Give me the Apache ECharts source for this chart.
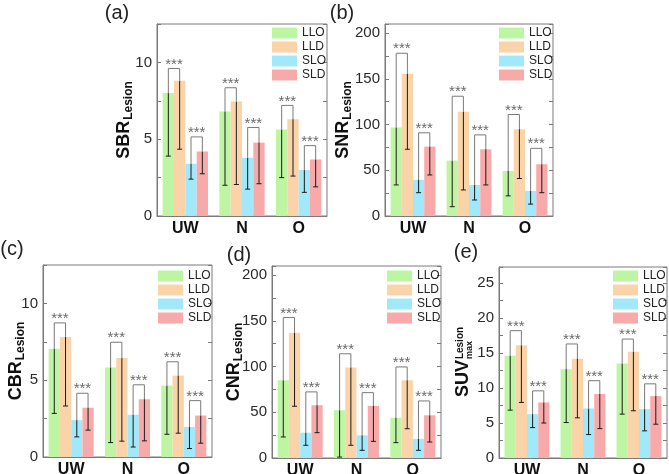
<!DOCTYPE html>
<html>
<head>
<meta charset="utf-8">
<script src="https://cdn.jsdelivr.net/npm/echarts@6/dist/echarts.min.js"></script>
<style>
html, body { margin: 0; padding: 0; background: #fff; }
#main { width: 669px; height: 474px; }
</style>
</head>
<body>
<div id="main"></div>
<script>
var categories = ['UW', 'N', 'O'];
var groupNames = ['LLO', 'LLD', 'SLO', 'SLD'];
var groupColors = ['#bdf5a3', '#fbd3a8', '#a2e8fb', '#f8aaab'];

// rows: LLO, LLD, SLO, SLD  /  columns: UW, N, O
var sbrMean = [[8.0, 6.8, 5.63], [8.8, 7.45, 6.3], [3.4, 3.79, 2.99], [4.2, 4.78, 3.68]];
var sbrLow = [[3.9, 2.0, 2.5], [4.35, 2.05, 2.6], [2.4, 1.75, 1.54], [2.75, 2.1, 1.9]];
// bracket heights: [LLO-LLD], [SLO-SLD]
var sbrBracket = [[9.6, 8.35, 7.2], [5.15, 5.76, 4.58]];

var snrMean = [[96.7, 60.6, 49.3], [155.5, 114, 95], [39.4, 34, 27.4], [75.9, 73, 56.6]];
var snrLow = [[34, 10.2, 22], [73, 28.5, 41], [25.5, 17.5, 13], [44.9, 34, 25.5]];
var snrBracket = [[178, 131, 111], [91, 88.7, 74]];

var cbrMean = [[7.05, 5.83, 4.65], [7.82, 6.44, 5.3], [2.4, 2.75, 1.95], [3.21, 3.76, 2.7]];
var cbrLow = [[2.84, 0.94, 1.48], [3.32, 1.03, 1.55], [1.31, 0.65, 0.55], [1.75, 1.05, 0.9]];
var cbrBracket = [[8.73, 7.47, 6.2], [4.15, 4.7, 3.67]];

var cnrMean = [[85, 52.2, 44], [137, 99, 85], [27.7, 24.8, 21], [57.7, 57, 46.7]];
var cnrLow = [[23, 1, 16.8], [56.6, 13.9, 32], [13.9, 8.4, 8.4], [27.7, 18.2, 17.5]];
var cnrBracket = [[153.6, 114, 99.6], [72.3, 71.5, 62.4]];

var suvMean = [[14.6, 12.7, 13.5], [16.1, 14.2, 15.2], [6.27, 7.08, 6.98], [7.94, 9.14, 8.85]];
var suvLow = [[6.84, 5.07, 6.27], [7.94, 5.74, 6.75], [4.35, 3.35, 3.88], [5.0, 4.2, 4.83]];
var suvBracket = [[18.2, 16.3, 17], [9.6, 11.05, 10.6]];

var FONT = 'Arial, "Liberation Sans", sans-serif';

var panels = [
    { tag: '(a)', tagPos: [117, 13], mean: sbrMean, low: sbrLow, bracket: sbrBracket,
      max: 12.5, step: 2.5, labelStep: 5, grid: { left: 157, top: 24, width: 170, height: 192 },
      title: 'SBR', sub: 'Lesion', titlePos: [124.5, 120], legendPos: [272, 27] },
    { tag: '(b)', tagPos: [342, 13], mean: snrMean, low: snrLow, bracket: snrBracket,
      max: 210, step: 25, labelStep: 50, grid: { left: 385, top: 24, width: 168, height: 192 },
      title: 'SNR', sub: 'Lesion', titlePos: [343.5, 120], legendPos: [499, 27] },
    { tag: '(c)', tagPos: [12, 249], mean: cbrMean, low: cbrLow, bracket: cbrBracket,
      max: 12.5, step: 2.5, labelStep: 5, grid: { left: 43, top: 265, width: 169, height: 192 },
      title: 'CBR', sub: 'Lesion', titlePos: [16.5, 361], legendPos: [158, 270] },
    { tag: '(d)', tagPos: [239, 255], mean: cnrMean, low: cnrLow, bracket: cnrBracket,
      max: 210, step: 25, labelStep: 50, grid: { left: 272, top: 266, width: 169, height: 192 },
      title: 'CNR', sub: 'Lesion', titlePos: [234.5, 362], legendPos: [387, 270] },
    { tag: '(e)', tagPos: [466, 252], mean: suvMean, low: suvLow, bracket: suvBracket,
      max: 27.3, step: 2.5, labelStep: 5, grid: { left: 499, top: 267, width: 168, height: 191 },
      title: 'SUV', sup: 'Lesion', sub: 'max', titlePos: [463.5, 362], legendPos: [613, 270] }
];

var measureCtx = document.createElement('canvas').getContext('2d');
function textWidth(str, size) {
    measureCtx.font = 'bold ' + size + 'px ' + FONT;
    return measureCtx.measureText(str).width;
}

function boldText(str, size, x, y) {
    return {
        type: 'text', x: x, y: y,
        style: { text: str, fontSize: size, fontWeight: 'bold', fontFamily: FONT,
                 fill: '#111', align: 'left', verticalAlign: 'middle' }
    };
}

// y axis title, rotated to read bottom to top
function axisTitle(pn) {
    var wMain = textWidth(pn.title, 18);
    var children = [];
    var total, start;
    if (pn.sup) {
        var wSup = textWidth(pn.sup, 10);
        var wSub = textWidth(pn.sub, 9);
        total = wMain + 1 + Math.max(wSup, wSub);
        start = -total / 2;
        children.push(boldText(pn.title, 18, start, 0));
        children.push(boldText(pn.sup, 10, start + wMain + 1, -3.5));
        children.push(boldText(pn.sub, 9, start + wMain + 1, 6));
    } else {
        var wS = textWidth(pn.sub, 12);
        total = wMain + 1 + wS;
        start = -total / 2;
        children.push(boldText(pn.title, 18, start, 0));
        children.push(boldText(pn.sub, 12, start + wMain + 1, 4));
    }
    return { type: 'group', x: pn.titlePos[0], y: pn.titlePos[1], rotation: Math.PI / 2, children: children };
}

function renderError(params, api) {
    var cat = api.value(0), g = api.value(1);
    var bw = api.size([1, 0])[0] * 0.2;
    var top = api.coord([cat, api.value(2)]);
    var bot = api.coord([cat, api.value(3)]);
    var x = top[0] + (g - 1.5) * bw;
    return {
        type: 'group',
        children: [
            { type: 'line', shape: { x1: x, y1: top[1], x2: x, y2: bot[1] }, style: { stroke: '#1a1a1a', lineWidth: 1 } },
            { type: 'line', shape: { x1: x - 2.5, y1: bot[1], x2: x + 2.5, y2: bot[1] }, style: { stroke: '#1a1a1a', lineWidth: 1 } }
        ]
    };
}

function renderBracket(params, api) {
    var cat = api.value(0), pair = api.value(1);
    var bw = api.size([1, 0])[0] * 0.2;
    var c = api.coord([cat, api.value(2)]);
    var x1 = c[0] + (2 * pair - 1.5) * bw;
    var x2 = c[0] + (2 * pair - 0.5) * bw;
    var yB = c[1];
    var yL = api.coord([cat, api.value(3)])[1];
    var yR = api.coord([cat, api.value(4)])[1];
    return {
        type: 'group',
        children: [
            { type: 'polyline', shape: { points: [[x1, yL], [x1, yB], [x2, yB], [x2, yR]] },
              style: { stroke: '#7a7a7a', lineWidth: 1, fill: null } },
            { type: 'text', x: (x1 + x2) / 2, y: yB - 4,
              style: { text: '***', fontSize: 15, fontFamily: FONT, fill: '#6a6a6a', align: 'center', verticalAlign: 'middle' } }
        ]
    };
}

var grids = [], xAxes = [], yAxes = [], series = [], legends = [], graphics = [];

panels.forEach(function (pn, p) {
    grids.push({
        left: pn.grid.left, top: pn.grid.top, width: pn.grid.width, height: pn.grid.height,
        show: true, borderColor: '#7a7a7a', borderWidth: 1, outerBoundsMode: 'none'
    });
    xAxes.push({
        type: 'category', gridIndex: p, data: categories,
        axisLine: { lineStyle: { color: '#7a7a7a' } },
        axisTick: { show: false },
        axisLabel: { fontSize: 16, fontWeight: 'bold', color: '#111', fontFamily: FONT, margin: 5 }
    });
    var labelStep = pn.labelStep;
    var yBase = {
        type: 'value', gridIndex: p, min: 0, max: pn.max, interval: pn.step,
        splitLine: { show: false },
        axisTick: { show: true, inside: true, length: 4, lineStyle: { color: '#7a7a7a' } }
    };
    yAxes.push(Object.assign({}, yBase, {
        position: 'left',
        axisLine: { show: true, lineStyle: { color: '#7a7a7a' } },
        axisLabel: {
            fontSize: 15, color: '#2a2a2a', fontFamily: FONT, margin: 5,
            formatter: function (v) {
                var r = v / labelStep;
                return Math.abs(r - Math.round(r)) < 1e-6 ? String(v) : '';
            }
        }
    }));
    yAxes.push(Object.assign({}, yBase, {
        position: 'right',
        axisLine: { show: false },
        axisLabel: { show: false }
    }));

    groupNames.forEach(function (name, g) {
        series.push({
            type: 'bar', name: name, xAxisIndex: p, yAxisIndex: 2 * p,
            data: pn.mean[g], barGap: '0%', barCategoryGap: '20%',
            itemStyle: { color: groupColors[g] }, animation: false
        });
    });

    var errData = [], brData = [];
    categories.forEach(function (cat, c) {
        for (var g = 0; g < 4; g++) {
            errData.push([c, g, pn.mean[g][c], pn.low[g][c]]);
        }
        for (var k = 0; k < 2; k++) {
            brData.push([c, k, pn.bracket[k][c], pn.mean[2 * k][c], pn.mean[2 * k + 1][c]]);
        }
    });
    series.push({
        type: 'custom', name: 'err' + p, xAxisIndex: p, yAxisIndex: 2 * p,
        renderItem: renderError, data: errData, encode: { x: 0, y: [2, 3] },
        clip: false, z: 3, animation: false
    });
    series.push({
        type: 'custom', name: 'sig' + p, xAxisIndex: p, yAxisIndex: 2 * p,
        renderItem: renderBracket, data: brData, encode: { x: 0, y: [2, 3, 4] },
        clip: false, z: 3, animation: false
    });

    legends.push({
        left: pn.legendPos[0], top: pn.legendPos[1], orient: 'vertical', padding: 0,
        itemWidth: 25, itemHeight: 11, itemGap: 2, icon: 'rect', selectedMode: false,
        data: groupNames,
        textStyle: { fontSize: 12, color: '#222', fontFamily: FONT }
    });

    graphics.push({
        type: 'text', x: pn.tagPos[0], y: pn.tagPos[1],
        style: { text: pn.tag, fontSize: 20, fontFamily: FONT, fill: '#222', align: 'center', verticalAlign: 'middle' }
    });
    graphics.push(axisTitle(pn));
});

var chart = echarts.init(document.getElementById('main'));
chart.setOption({
    animation: false,
    backgroundColor: '#fff',
    grid: grids,
    xAxis: xAxes,
    yAxis: yAxes,
    legend: legends,
    series: series,
    graphic: graphics
});

window.onresize = function () {
    chart.resize();
};
</script>
</body>
</html>
